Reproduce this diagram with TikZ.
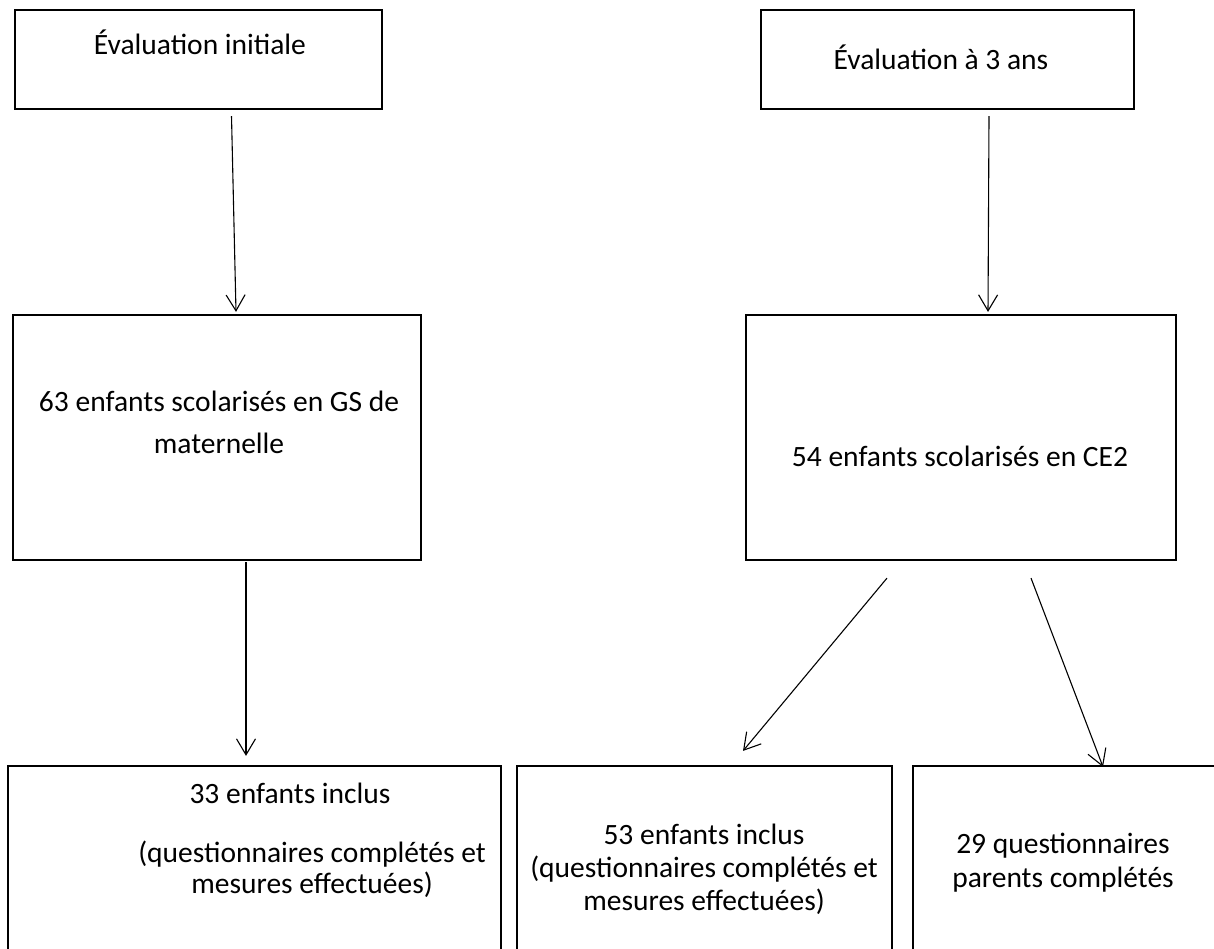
\documentclass[tikz,border=0pt]{standalone}
\usepackage{fontspec}
\setmainfont{Carlito}
\usetikzlibrary{arrows.meta,calc}
\tikzset{
  boite/.style={draw, line width=2.2pt, inner sep=0pt},
  texte/.style={font=\fontsize{29.5}{33}\selectfont, align=center, inner sep=0pt, anchor=base},
  fleche/.style={-{Straight Barb[length=16pt, width=19pt]}, line width=1.1pt},
}

\begin{document}
\begin{tikzpicture}[x=1pt, y=-1pt]
  \useasboundingbox (0,0) rectangle (1214,949);
  \clip (0,0) rectangle (1214,949);
  % evaluations
  \node[boite, minimum width=367pt, minimum height=99pt] (init) at (198.5,59.5) {};
  \node[boite, minimum width=373pt, minimum height=99pt] (troisans) at (947.5,59.5) {};
  \node[texte] (init-t) at (200,55) {Évaluation initiale};
  \node[texte] (troisans-t) at (941,70) {Évaluation à 3 ans};
  % enfants scolarises
  \node[boite, minimum width=408pt, minimum height=245pt] (gs) at (217,437.5) {};
  \node[boite, minimum width=430pt, minimum height=245pt] (ce2) at (961,437.5) {};
  \node[texte, font=\fontsize{29.5}{42}\selectfont] (gs-t) at (219,453) {63 enfants scolarisés en GS de\\maternelle};
  \node[texte] (ce2-t) at (960,466) {54 enfants scolarisés en CE2};
  % inclus
  \node[boite, minimum width=493pt, minimum height=194pt] (inclus33) at (254.5,863) {};
  \node[boite, minimum width=375pt, minimum height=194pt] (inclus53) at (704.5,863) {};
  \node[boite, minimum width=317pt, minimum height=194pt] (parents) at (1071.5,863) {};
  \node[texte] (inclus33-t) at (290,803) {33 enfants inclus};
  \node[texte, font=\fontsize{29.5}{31}\selectfont] (inclus33-m) at (312,893) {(questionnaires complétés et\\mesures effectuées)};
  \node[texte] (inclus53-t) at (704,910) {53 enfants inclus\\(questionnaires complétés et\\mesures effectuées)};
  \node[texte, font=\fontsize{29.5}{34}\selectfont] (parents-t) at (1063,887) {29 questionnaires\\parents complétés};
  % fleches
  \draw[fleche] ($(init.south)+(33,6)$) -- ($(gs.north)+(19,-2)$);
  \draw[fleche] ($(troisans.south)+(41.5,6)$) -- ($(ce2.north)+(27,-2)$);
  \draw[fleche] ($(gs.south)+(29,1)$) -- ($(inclus33.north)+(-8.5,-9)$);
  \draw[fleche] ($(ce2.south)+(-74,17)$) -- ($(inclus53.north)+(38.5,-14)$);
  \draw[fleche] ($(ce2.south)+(70,17)$) -- ($(parents.north)+(31.5,2)$);
\end{tikzpicture}
\end{document}
